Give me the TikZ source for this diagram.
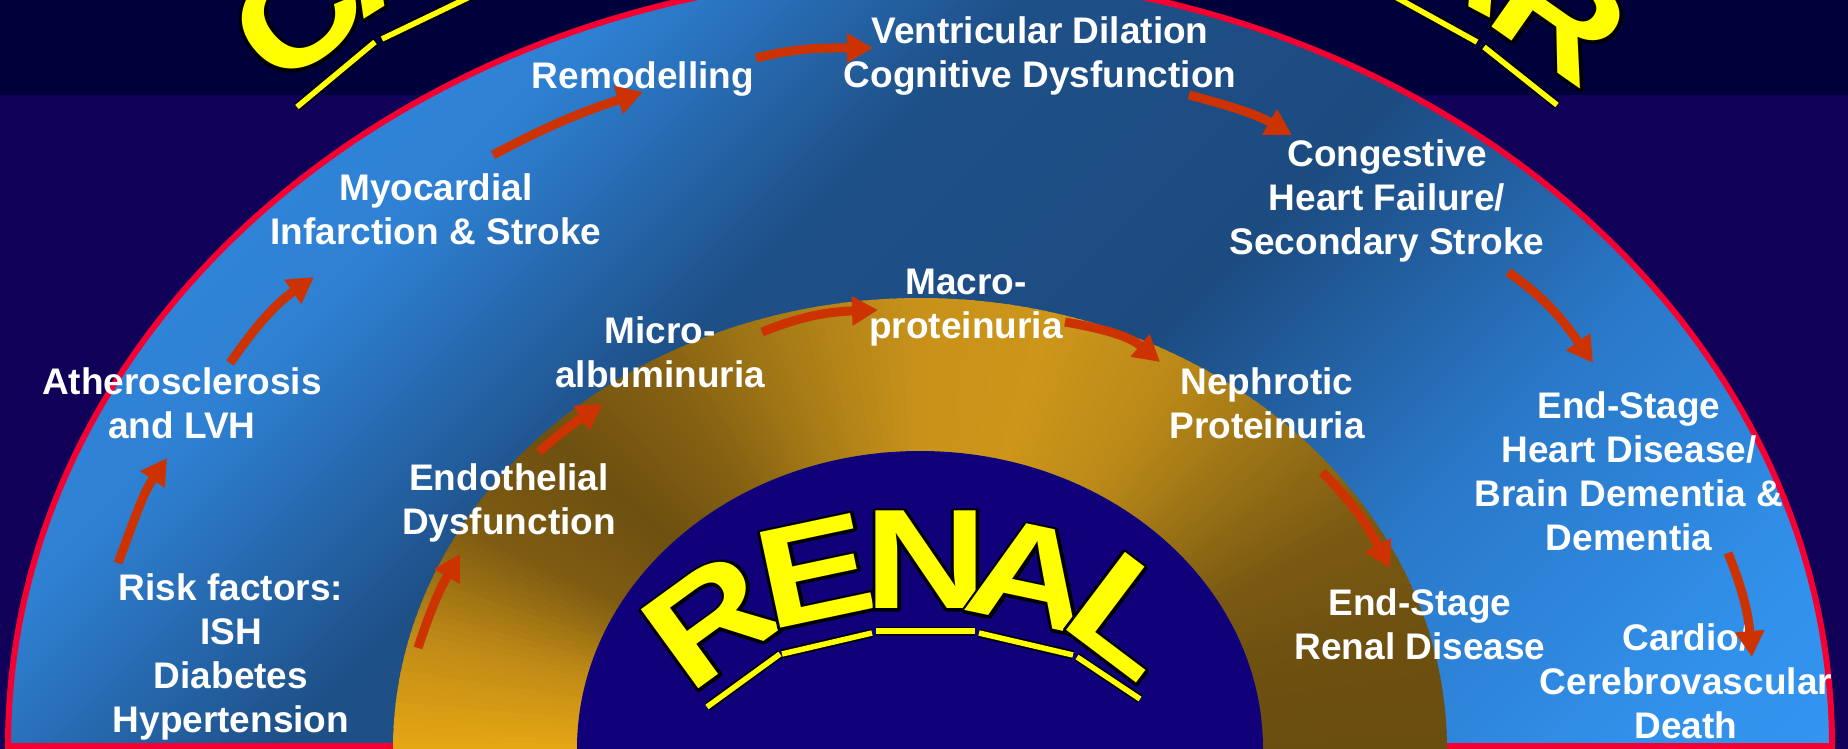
\documentclass[tikz,border=0pt]{standalone}
\usepackage{fontspec}
\setmainfont{Liberation Sans}
\usepackage{graphicx}
\usetikzlibrary{arrows.meta}
\definecolor{bgtop}{HTML}{00003A}
\definecolor{bgbot}{HTML}{110058}
\definecolor{navy}{HTML}{10007A}
\definecolor{rim}{HTML}{F50032}
\definecolor{arr}{HTML}{CC3300}
\definecolor{yel}{HTML}{FFFF00}
\definecolor{bA}{HTML}{3395F0}
\definecolor{bB}{HTML}{3190EA}
\definecolor{bC}{HTML}{2A78C8}
\definecolor{bD}{HTML}{1C4B80}
\definecolor{bE}{HTML}{1E5088}
\definecolor{bF}{HTML}{2E80D2}
\definecolor{bG}{HTML}{3490E8}
\pgfdeclareverticalshading{blueshade}{100bp}{color(0bp)=(bA); color(14.6bp)=(bA); color(20.3bp)=(bB); color(32.3bp)=(bC); color(44.3bp)=(bD); color(57.1bp)=(bE); color(67.7bp)=(bF); color(85.4bp)=(bG); color(100bp)=(bG)}
\definecolor{g0}{HTML}{6A4E10}
\definecolor{g1}{HTML}{6E5010}
\definecolor{g2}{HTML}{7A5A12}
\definecolor{g3}{HTML}{9A7216}
\definecolor{g4}{HTML}{BC8A18}
\definecolor{g5}{HTML}{CC961A}
\definecolor{g6}{HTML}{C8921A}
\definecolor{g7}{HTML}{A87C16}
\definecolor{g8}{HTML}{846012}
\definecolor{g9}{HTML}{6E5010}
\definecolor{g10}{HTML}{7E5C12}
\definecolor{g11}{HTML}{C08A16}
\definecolor{g12}{HTML}{E8A814}
\tikzset{
  lbl/.style={text=white, font=\fontsize{37}{44}\selectfont\bfseries, align=center, inner sep=0pt, anchor=north},
  flow/.style={draw=arr, line width=9pt, -{Triangle[width=28pt,length=26pt]}},
  walet/.style={font=\fontsize{142}{142}\selectfont\bfseries, inner sep=0pt, text=yel},
  ribbonout/.style={draw=black, line width=9pt},
  ribbonin/.style={draw=yel, line width=5.5pt},
}
% yellow letter with a black outline drawn outside it:
% a stroked-only black copy (PDF text render mode 1) under the filled yellow letter
\newcommand\outl[1]{%
  \makebox[0pt][l]{\color{black}\special{pdf:literal 0 0 0 RG 5.6 w 1 j 1 Tr}\scalebox{1.2}[1]{#1}\special{pdf:literal 0 Tr}}%
  \scalebox{1.2}[1]{#1}}
\newcommand\wordartletter[5]{%
  \node[walet, rotate=#4] (#1) at (#2,#3) {\outl{#5}};
}
\newcommand\goldseg[4]{%
  \foreach \k in {0,...,14}{%
    \pgfmathsetmacro\gsA{#1+(#2-#1)*\k/15}%
    \pgfmathsetmacro\gsB{#1+(#2-#1)*(\k+1.4)/15}%
    \pgfmathtruncatemacro\gsP{100*\k/15}%
    \fill[#4!\gsP!#3] (920,-749) -- ({920+527*cos(\gsA)},{-749+451*sin(\gsA)}) -- ({920+527*cos(\gsB)},{-749+451*sin(\gsB)}) -- cycle;
  }%
}
\newcommand\ribbonseg[2]{%
  \draw[ribbonout] #1 -- #2;
  \draw[ribbonin] #1 -- #2;
}
\begin{document}
\begin{tikzpicture}[x=1pt,y=1pt]
\useasboundingbox (0,0) rectangle (1848,-749);
\clip (0,0) rectangle (1848,-749);
% background
\fill[bgbot] (0,-95) rectangle (1848,-749);
\fill[bgtop] (0,0) rectangle (1848,-95);
% top word-art letters (partly outside the picture)
\wordartletter{tC}{297}{-16}{40}{C}
\wordartletter{tA}{387}{53}{32}{A}
\wordartletter{tA2}{1463}{52}{-28}{A}
\wordartletter{tR}{1561}{-16}{-35}{R}
\ribbonseg{(297,-107)}{(375,-42)}
\ribbonseg{(382,-39)}{(480,8)}
\ribbonseg{(1390,6)}{(1477,-42)}
\ribbonseg{(1484,-47)}{(1557,-105)}
% outer blue band
\shadedraw[shading=blueshade, shading angle=45, draw=rim, line width=6pt] (8,-746) arc[start angle=180, end angle=0, x radius=912, y radius=772] -- cycle;
% gold band
\goldseg{0}{15}{g0}{g1}
\goldseg{15}{30}{g1}{g2}
\goldseg{30}{45}{g2}{g3}
\goldseg{45}{60}{g3}{g4}
\goldseg{60}{75}{g4}{g5}
\goldseg{75}{90}{g5}{g6}
\goldseg{90}{105}{g6}{g7}
\goldseg{105}{120}{g7}{g8}
\goldseg{120}{135}{g8}{g9}
\goldseg{135}{150}{g9}{g10}
\goldseg{150}{165}{g10}{g11}
\goldseg{165}{180}{g11}{g12}
% inner navy
\fill[navy] (920,-749) ellipse [x radius=343, y radius=298];
% RENAL
\ribbonseg{(707,-707)}{(780,-654)}
\ribbonseg{(782,-654)}{(872,-633)}
\ribbonseg{(876,-631)}{(975,-631)}
\ribbonseg{(979,-633)}{(1073,-655)}
\ribbonseg{(1077,-657)}{(1140,-699)}
\wordartletter{rR}{711}{-620}{36}{R}
\wordartletter{rE}{815}{-571}{12}{E}
\wordartletter{rN}{926}{-560}{0}{N}
\wordartletter{rA}{1031}{-575}{-12}{A}
\wordartletter{rL}{1128}{-616}{-37}{L}
% labels
\node[lbl] (vent) at (1040,-12.5) {\strut Ventricular Dilation\\Cognitive Dysfunction};
\node[lbl] (remod) at (643,-57.5) {\strut Remodelling};
\node[lbl] (myo) at (436,-169.5) {\strut Myocardial\\Infarction \& Stroke};
\node[lbl] (ath) at (182,-363.5) {\strut Atherosclerosis\\and LVH};
\node[lbl] (risk) at (231,-569.5) {\strut Risk factors:\\ISH\\Diabetes\\Hypertension};
\node[lbl] (endo) at (509,-459.5) {\strut Endothelial\\Dysfunction};
\node[lbl] (micro) at (660,-312.5) {\strut Micro-\\albuminuria};
\node[lbl] (macro) at (966,-263.5) {\strut Macro-\\proteinuria};
\node[lbl] (neph) at (1267,-363.5) {\strut Nephrotic\\Proteinuria};
\node[lbl] (esrd) at (1420,-584.5) {\strut End-Stage\\Renal Disease};
\node[lbl] (eshd) at (1629,-387.5) {\strut End-Stage\\Heart Disease/\\Brain Dementia \&\\Dementia};
\node[lbl] (death) at (1686,-619.5) {\strut Cardio/\\Cerebrovascular\\Death};
\node[lbl] (chf) at (1387,-135.5) {\strut Congestive\\Heart Failure/\\Secondary Stroke};
% arrow ends
\coordinate (a1s) at (118,-563); \coordinate (a1e) at (167,-458);
\coordinate (a2s) at (230,-363); \coordinate (a2e) at (314,-277);
\coordinate (a3s) at (493,-155); \coordinate (a3e) at (643,-92);
\coordinate (a4s) at (756,-58);  \coordinate (a4e) at (873,-48);
\coordinate (a5s) at (1189,-95); \coordinate (a5e) at (1292,-135);
\coordinate (a6s) at (1508,-272); \coordinate (a6e) at (1593,-363);
\coordinate (a7s) at (1728,-553); \coordinate (a7e) at (1752,-657);
\coordinate (a8s) at (418,-648); \coordinate (a8e) at (460,-554);
\coordinate (a9s) at (539,-452); \coordinate (a9e) at (603,-404);
\coordinate (a10s) at (762,-332); \coordinate (a10e) at (878,-310);
\coordinate (a11s) at (1065,-322); \coordinate (a11e) at (1160,-362);
\coordinate (a12s) at (1322,-472); \coordinate (a12e) at (1390,-568);
% arrows
\draw[flow] (a1s) to[out=69,in=236] (a1e);
\draw[flow] (a2s) to[out=55,in=215] (a2e);
\draw[flow] (a3s) to[out=28,in=198] (a3e);
\draw[flow] (a4s) to[out=14,in=180] (a4e);
\draw[flow] (a5s) to[out=-15,in=150] (a5e);
\draw[flow] (a6s) to[out=-35,in=125] (a6e);
\draw[flow] (a7s) to[out=-68,in=95] (a7e);
\draw[flow] (a8s) to[out=72,in=240] (a8e);
\draw[flow] (a9s) to[out=42,in=213] (a9e);
\draw[flow] (a10s) to[out=22,in=182] (a10e);
\draw[flow] (a11s) to[out=-10,in=140] (a11e);
\draw[flow] (a12s) to[out=-45,in=118] (a12e);
\end{tikzpicture}
\end{document}
